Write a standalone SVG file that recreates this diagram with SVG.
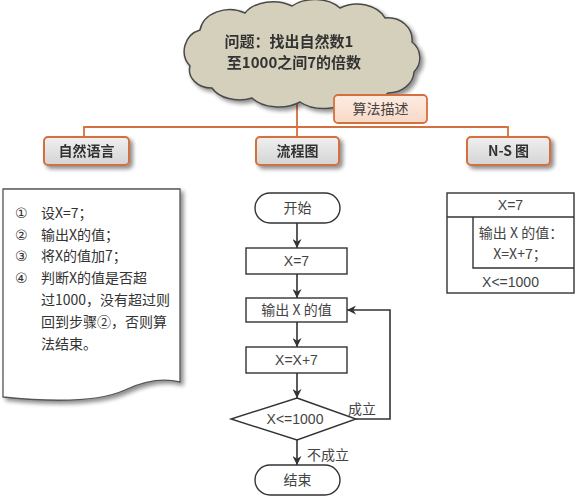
<svg xmlns="http://www.w3.org/2000/svg" width="579" height="500" viewBox="0 0 579 500">
<style>
.cjk{font-family:"Noto Sans CJK SC","Liberation Sans",sans-serif;}
.lat{font-family:"Liberation Sans","Noto Sans CJK SC",sans-serif;}
.lbl{fill:#333;font-size:14px;font-weight:bold;text-anchor:middle;}
.box{stroke:#d4703e;stroke-width:2;fill:url(#gbox);}
.oline{stroke:#d4703e;stroke-width:1.8;fill:none;}
.fc{fill:#fff;stroke:#333;stroke-width:1.4;}
.con{stroke:#333;stroke-width:1.6;fill:none;marker-end:url(#arr);}
.t{fill:#444;font-size:14px;}
.tm{text-anchor:middle;}
.doc{fill:#333;font-size:14px;}
.num{fill:#333;font-size:14px;font-family:"DejaVu Sans","Noto Sans CJK SC",sans-serif;}
</style>
<defs>
<linearGradient id="gbox" x1="0" y1="0" x2="0" y2="1">
<stop offset="0" stop-color="#f0f0f0"/>
<stop offset="1" stop-color="#d4d4d4"/>
</linearGradient>
<linearGradient id="gpeach" x1="0" y1="0" x2="0" y2="1">
<stop offset="0" stop-color="#fdece2"/>
<stop offset="1" stop-color="#f8d9c6"/>
</linearGradient>
<filter id="sh" x="-20%" y="-20%" width="150%" height="150%">
<feGaussianBlur in="SourceAlpha" stdDeviation="2"/>
<feOffset dx="3" dy="3" result="b"/>
<feComponentTransfer><feFuncA type="linear" slope="0.45"/></feComponentTransfer>
<feMerge><feMergeNode/><feMergeNode in="SourceGraphic"/></feMerge>
</filter>
<marker id="arr" viewBox="0 0 10 10" refX="10" refY="5" markerWidth="9" markerHeight="9" markerUnits="userSpaceOnUse" orient="auto">
<path d="M0,0 L10,5 L0,10 L3,5 Z" fill="#333"/>
</marker>
</defs>
<rect width="579" height="500" fill="#fff"/>

<g id="connectors">
<path class="oline" d="M297,100 V137"/>
<path class="oline" d="M84,137 V127 H508 V137"/>
<path class="con" d="M297,223 V248"/>
<path class="con" d="M297,274 V298"/>
<path class="con" d="M297,322 V347"/>
<path class="con" d="M297,373 V398"/>
<path class="con" d="M297,440 V465"/>
<path class="con" d="M356,419 H390 V310 H347"/>
<text class="cjk t" x="348" y="414">成立</text>
<text class="cjk t" x="307" y="460">不成立</text>
</g>

<g id="cloud" filter="url(#sh)">
<path d="M190,66 A22,22 0 0 1 200,30 A30,24 0 0 1 245,13 A32,22 0 0 1 292,6 A32,22 0 0 1 340,8 A30,22 0 0 1 385,18 A24,22 0 0 1 412,42 A20,20 0 0 1 414,72 A26,22 0 0 1 388,93 A30,20 0 0 1 350,100 A32,20 0 0 1 300,102 A32,20 0 0 1 252,98 A30,20 0 0 1 212,88 A22,18 0 0 1 190,66 Z" fill="#d5d0bb" stroke="#4a4a4a" stroke-width="1.5"/>
<text class="cjk" x="289" y="47" font-size="15" font-weight="bold" fill="#333" text-anchor="middle">问题：找出自然数1</text>
<text class="cjk" x="294" y="68" font-size="15" font-weight="bold" fill="#333" text-anchor="middle">至1000之间7的倍数</text>
</g>

<g id="algo">
<rect x="334" y="95" width="93" height="28" rx="4" fill="url(#gpeach)" stroke="#d4703e" stroke-width="1.8"/>
<text class="cjk" x="380.5" y="114" font-size="14" fill="#444" text-anchor="middle">算法描述</text>
</g>

<g id="natlang" filter="url(#sh)">
<rect class="box" x="44" y="137" width="85" height="28" rx="4"/>
<text class="cjk lbl" x="86.5" y="156">自然语言</text>
</g>
<g id="flowlbl" filter="url(#sh)">
<rect class="box" x="256" y="137" width="83" height="28" rx="4"/>
<text class="cjk lbl" x="297.5" y="156">流程图</text>
</g>
<g id="nslbl" filter="url(#sh)">
<rect class="box" x="467" y="137" width="83" height="28" rx="4"/>
<text class="cjk lbl" x="508.5" y="156">N-S 图</text>
</g>

<g id="document">
<path d="M3,189 H180 V382 Q155,376 125,390 Q90,406 3,397 Z" fill="#fff" stroke="#555" stroke-width="1.3" filter="url(#sh)"/>
<text class="num" x="15" y="218">①</text><text class="cjk doc" x="41" y="218">设X=7；</text>
<text class="num" x="15" y="240">②</text><text class="cjk doc" x="41" y="240">输出X的值；</text>
<text class="num" x="15" y="261">③</text><text class="cjk doc" x="41" y="261">将X的值加7；</text>
<text class="num" x="15" y="283">④</text><text class="cjk doc" x="41" y="283">判断X的值是否超</text>
<text class="cjk doc" x="41" y="305">过1000，没有超过则</text>
<text class="cjk doc" x="41" y="327">回到步骤②，否则算</text>
<text class="cjk doc" x="41" y="349">法结束。</text>
</g>

<g id="start">
<rect class="fc" x="255" y="193" width="85" height="30" rx="15"/>
<text class="cjk t tm" x="297.5" y="213">开始</text>
</g>
<g id="x7">
<rect class="fc" x="246" y="248" width="101" height="26"/>
<text class="lat t tm" x="296.5" y="266" font-size="13">X=7</text>
</g>
<g id="output">
<rect class="fc" x="246" y="298" width="101" height="24"/>
<text class="cjk t tm" x="296.5" y="315">输出 X 的值</text>
</g>
<g id="xplus">
<rect class="fc" x="246" y="347" width="101" height="26"/>
<text class="lat t tm" x="296.5" y="365" font-size="13">X=X+7</text>
</g>
<g id="cond">
<polygon class="fc" points="297,398 356,419 297,440 231,419"/>
<text class="lat t tm" x="295" y="424" font-size="13">X&lt;=1000</text>
</g>
<g id="end">
<rect class="fc" x="255" y="465" width="85" height="30" rx="15"/>
<text class="cjk t tm" x="297.5" y="485">结束</text>
</g>

<g id="ns">
<rect x="447" y="193" width="127" height="100" fill="#fff" stroke="#333" stroke-width="1.4"/>
<line x1="447" y1="217" x2="574" y2="217" stroke="#333" stroke-width="1.4"/>
<polyline points="473,217 473,268 574,268" fill="none" stroke="#333" stroke-width="1.4"/>
<text class="lat t tm" x="510.5" y="210" font-size="13">X=7</text>
<text class="cjk t tm" x="521" y="238" font-size="12.5">输出 X 的值：</text>
<text class="cjk t tm" x="520" y="259" font-size="12.5">X=X+7；</text>
<text class="lat t tm" x="510.5" y="287" font-size="13">X&lt;=1000</text>
</g>
</svg>
